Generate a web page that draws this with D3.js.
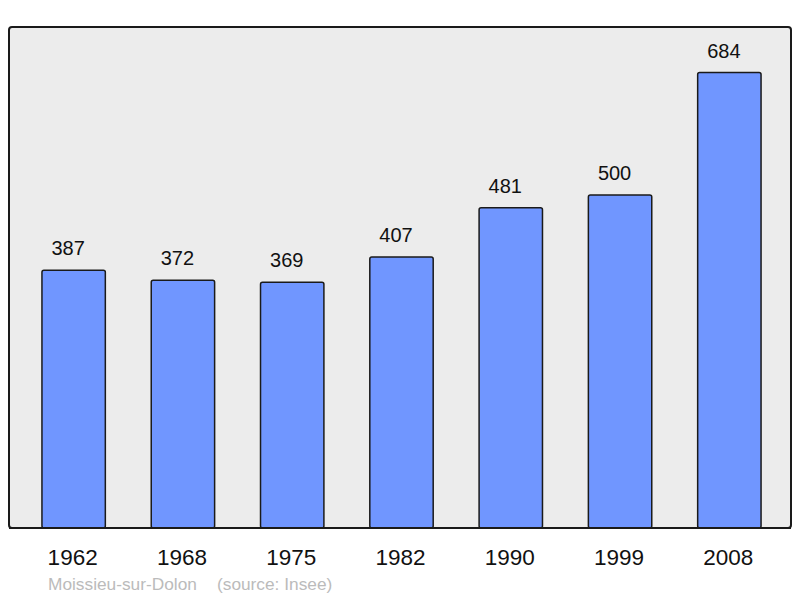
<!DOCTYPE html>
<html>
<head>
<meta charset="utf-8">
<script src="https://cdn.jsdelivr.net/npm/d3@7"></script>
<style>
  body { margin: 0; background: #fff; }
  text { font-family: "Liberation Sans", Arial, sans-serif; }
</style>
</head>
<body>
<svg id="chart" width="800" height="598"></svg>
<script>
// population data
var years = ['1962', '1968', '1975', '1982', '1990', '1999', '2008'];
var population = [387, 372, 369, 407, 481, 500, 684];
var town = 'Moissieu-sur-Dolon';
var source = '(source: Insee)';

var svg = d3.select('#chart');

var panel = {left: 9, top: 27, right: 791, bottom: 528};

// background frame
svg.append('rect')
    .attr('x', panel.left)
    .attr('y', panel.top)
    .attr('width', panel.right - panel.left)
    .attr('height', panel.bottom - panel.top)
    .attr('rx', 3)
    .attr('fill', '#ececec')
    .attr('stroke', '#1a1a1a')
    .attr('stroke-width', 2);

var xScale = d3.scaleBand()
    .domain(years)
    .range([19, 784])
    .paddingInner(0.42)
    .paddingOuter(0.21);

var yScale = d3.scaleLinear()
    .domain([0, d3.max(population) * 1.1])
    .range([panel.bottom, panel.top]);

var data = years.map(function(y, i) { return {year: y, value: population[i]}; });

var bars = svg.selectAll('.bar').data(data).enter().append('g').attr('class', 'bar');

bars.append('rect')
    .attr('x', function(d) { return xScale(d.year); })
    .attr('y', function(d) { return yScale(d.value); })
    .attr('width', xScale.bandwidth())
    .attr('height', function(d) { return panel.bottom - yScale(d.value); })
    .attr('rx', 2)
    .attr('fill', '#7096ff')
    .attr('stroke', '#1a1a1a')
    .attr('stroke-width', 1.5);

// value labels sit a bit left of the bar centre
bars.append('text')
    .attr('x', function(d) { return xScale(d.year) + xScale.bandwidth() / 2 - 5.5; })
    .attr('y', function(d) { return yScale(d.value) - 15; })
    .attr('text-anchor', 'middle')
    .attr('font-size', 20)
    .attr('fill', '#111')
    .text(function(d) { return d.value; });

// redraw bottom edge over the bars
svg.append('line')
    .attr('x1', panel.left).attr('x2', panel.right)
    .attr('y1', panel.bottom).attr('y2', panel.bottom)
    .attr('stroke', '#1a1a1a')
    .attr('stroke-width', 2);

// year labels
var xAxis = d3.axisBottom(xScale).tickSize(0).tickPadding(0);
var axisG = svg.append('g')
    .attr('transform', 'translate(-1,' + 565 + ')')
    .call(xAxis);
axisG.select('.domain').remove();
axisG.selectAll('text')
    .attr('dy', 0)
    .attr('font-size', 22.5)
    .attr('font-family', '"Liberation Sans", Arial, sans-serif')
    .attr('fill', '#111');

// footer
svg.append('text')
    .attr('x', 48)
    .attr('y', 590)
    .attr('font-size', 17.3)
    .attr('fill', '#bbbbbb')
    .text(town);

svg.append('text')
    .attr('x', 217)
    .attr('y', 590)
    .attr('font-size', 17.3)
    .attr('fill', '#bbbbbb')
    .text(source);
</script>
</body>
</html>
